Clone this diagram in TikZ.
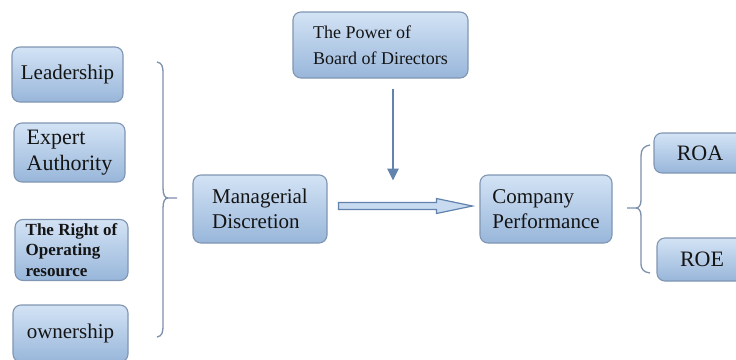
\documentclass[tikz,border=0pt]{standalone}
\usepackage{fontspec}
\setmainfont{Liberation Serif}
\usetikzlibrary{calc,arrows.meta}
\definecolor{boxtop}{HTML}{D3E3F5}
\definecolor{boxbot}{HTML}{98B6DA}
\definecolor{boxline}{HTML}{8096B2}
\definecolor{arrowc}{HTML}{6283AD}
\definecolor{bracec}{HTML}{7D90AC}
\definecolor{txt}{HTML}{141414}
\tikzset{
  box/.style={draw=boxline, line width=1.1pt, rounded corners=8pt,
    top color=boxtop, bottom color=boxbot, align=left, inner sep=0pt,
    text=txt, font=\rmfamily\fontsize{21pt}{25pt}\selectfont},
  bracepath/.style={draw=bracec, line width=1.3pt},
  varrow/.style={draw=arrowc, line width=2.6pt, -{Triangle[width=11pt,length=12pt]}},
  hollowarrow/.style={draw=arrowc, line width=1.2pt, fill=boxtop!80!boxbot, line join=miter}
}
\begin{document}
\begin{tikzpicture}[x=1pt,y=-1pt]
\useasboundingbox (0,0) rectangle (736,359);
\clip (0,0) rectangle (736,359);
\fill[white] (0,0) rectangle (736,359);

% left column
\node[box, minimum width=111pt, minimum height=55pt] (lead) at (67.5,74.5) {Leadership};
\node[box, minimum width=111pt, minimum height=59pt, font=\rmfamily\fontsize{22pt}{26pt}\selectfont] (exp) at (69.5,152.5) {Expert\\ Authority};
\node[box, minimum width=113pt, minimum height=61pt, font=\rmfamily\bfseries\fontsize{17pt}{20.5pt}\selectfont] (right) at (71.5,250) {The Right of\\Operating\\resource};
\node[box, minimum width=115pt, minimum height=57pt] (own) at (70.5,333.5) {ownership};

% middle
\node[box, minimum width=134pt, minimum height=68pt] (md) at (260,209) {Managerial\\Discretion};
\node[box, minimum width=175pt, minimum height=66pt, font=\rmfamily\fontsize{18pt}{26pt}\selectfont] (bod) at (380.5,45) {The Power of\\Board of Directors};
\node[box, minimum width=132pt, minimum height=68pt] (cp) at (546,209) {Company\\Performance};

% right column
\node[box, minimum width=92pt, minimum height=40pt, font=\rmfamily\fontsize{22pt}{26pt}\selectfont] (roa) at (700,153) {ROA};
\node[box, minimum width=90pt, minimum height=43pt, font=\rmfamily\fontsize{22pt}{26pt}\selectfont] (roe) at (702,259.5) {ROE};

% vertical arrow from board
\coordinate (va) at ($(bod.south)+(12.5,10)$);
\coordinate (vb) at ($(bod.south)+(12.5,102)$);
\draw[varrow] (va) -- (vb);

% hollow arrow md -> cp
\coordinate (ha) at ($(md.east)+(11,-3)$);
\coordinate (hb) at ($(cp.west)+(-7,-3)$);
\draw[hollowarrow] ($(ha)+(0,-3.5)$) -- ($(hb)+(-36,-3.5)$) -- ($(hb)+(-36,-7.5)$) -- (hb)
  -- ($(hb)+(-36,7.5)$) -- ($(hb)+(-36,3.5)$) -- ($(ha)+(0,3.5)$) -- cycle;

% left brace
\draw[bracepath] (157,62) .. controls (162,63) and (163,66) .. (163,74) -- (163,188)
  .. controls (163,195) and (165,198) .. (168,198) -- (177,198);
\draw[bracepath] (168,198) .. controls (165,198) and (163,201) .. (163,208) -- (163,325)
  .. controls (163,333) and (162,336) .. (157,337);

% right brace
\draw[bracepath] (650,145) .. controls (644,146) and (641,149) .. (641,156) -- (641,200)
  .. controls (641,205) and (639,208) .. (636,208) -- (627,208);
\draw[bracepath] (636,208) .. controls (639,208) and (641,211) .. (641,216) -- (641,263)
  .. controls (641,270) and (644,272) .. (650,273);
\end{tikzpicture}
\end{document}
